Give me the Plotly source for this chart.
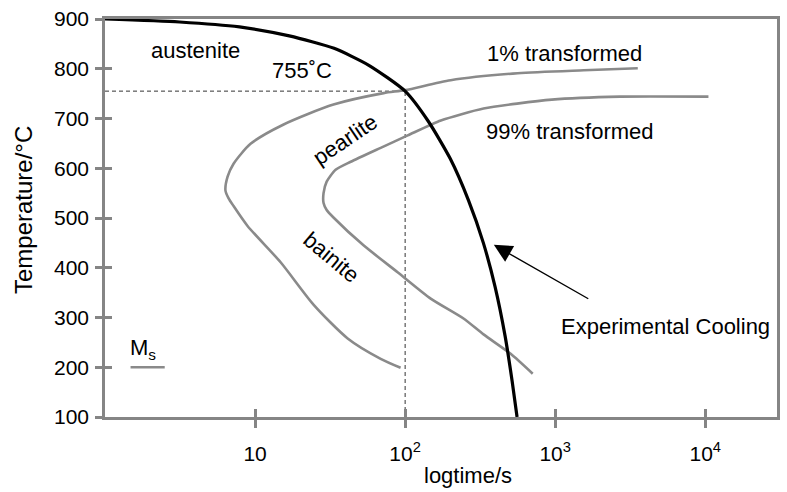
import numpy as np
import plotly.graph_objects as go

# ---- data -------------------------------------------------------------
# experimental cooling curve: time (s) vs temperature (degC)
cool_t = [1.0, 3.14, 7.87, 16.9, 33.6, 57.3, 100, 143, 200, 264, 332, 398,
          464, 516, 557]
cool_T = [900, 894, 884, 866, 841, 807, 755, 694, 619, 536, 450, 361,
          262, 173, 100]

# start of transformation (1% transformed)
start_t = [3550, 1550, 562, 201, 100, 71.9, 33.3, 15.5, 9.33, 7.19, 6.56,
           6.35, 6.65, 7.19, 8.91, 14.8, 24.5, 41.4, 68.7, 93.3]
start_T = [801, 797, 791, 777, 757, 751, 728, 688, 649, 609, 583,
           555, 540, 524, 484, 411, 326, 258, 217, 199]

# end of transformation (99% transformed)
end_t = [10500, 2700, 950, 333, 173, 104, 68.7, 43.4, 34.4, 30.0, 28.6,
         28.6, 30.0, 33.3, 52.8, 89.1, 148, 245, 333, 505, 708]
end_T = [744, 744, 738, 720, 696, 666, 641, 613, 597, 573, 550,
         530, 516, 501, 445, 391, 338, 298, 266, 227, 187]

# martensite start level
ms_t = [1.48, 2.5]
ms_T = [200, 200]

# critical point
crit_t = 100
crit_T = 755

x_tickvals = [10, 100, 1000, 10000]
x_ticktext = ["10", "10<sup>2</sup>", "10<sup>3</sup>", "10<sup>4</sup>"]
y_tickvals = [100, 200, 300, 400, 500, 600, 700, 800, 900]

# ---- styling ----------------------------------------------------------
FONT = "Liberation Sans, Arial, sans-serif"
FRAME = "#858585"
CURVE = "#8a8a8a"
X_RANGE = [0, 4.478]
Y_RANGE = [100, 900]

fig = go.Figure()

# dashed guide lines to the critical point
fig.add_trace(go.Scatter(
    x=[10 ** X_RANGE[0], crit_t, crit_t], y=[crit_T, crit_T, Y_RANGE[0]],
    mode="lines", line=dict(color="#333333", width=1, dash="4px,3px"),
    hoverinfo="skip", showlegend=False))

fig.add_trace(go.Scatter(
    x=start_t, y=start_T, mode="lines", line_shape="spline",
    line=dict(color=CURVE, width=2.6, smoothing=0.7),
    name="1% transformed", showlegend=False))

fig.add_trace(go.Scatter(
    x=end_t, y=end_T, mode="lines", line_shape="spline",
    line=dict(color=CURVE, width=2.6, smoothing=0.6),
    name="99% transformed", showlegend=False))

fig.add_trace(go.Scatter(
    x=ms_t, y=ms_T, mode="lines",
    line=dict(color=CURVE, width=2.6),
    name="Ms", showlegend=False))

fig.add_trace(go.Scatter(
    x=cool_t, y=cool_T, mode="lines", line_shape="spline",
    line=dict(color="black", width=3.2, smoothing=0.6),
    name="Experimental Cooling", showlegend=False))

# invisible trace that carries the inner tick marks of the overlay axes
fig.add_trace(go.Scatter(
    x=[10, 100], y=[100, 200], xaxis="x2", yaxis="y2", mode="markers",
    marker=dict(opacity=0), hoverinfo="skip", showlegend=False))

label_font = dict(family=FONT, size=22, color="black")


def label(text, logx, y, angle=0):
    fig.add_annotation(x=logx, y=y, xref="x", yref="y", text=text,
                       showarrow=False, textangle=angle, font=label_font,
                       xanchor="center", yanchor="middle")


label("austenite", 0.605, 837)
label("755˚C", 1.31, 797)
label("1% transformed", 3.065, 830)
label("99% transformed", 3.1, 674)
label("pearlite", 1.6, 658, angle=-34)
label("bainite", 1.51, 421, angle=40)
label("Experimental Cooling", 3.735, 282)
label("M<sub>s</sub>", 0.25, 236)

fig.add_annotation(
    x=np.log10(390), y=446, ax=np.log10(1700), ay=336,
    xref="x", yref="y", axref="x", ayref="y", text="",
    showarrow=True, arrowhead=2, arrowsize=2.6, arrowwidth=1.4,
    arrowcolor="black")

# axis titles
fig.add_annotation(x=0.54, y=-0.148, xref="paper", yref="paper",
                   text="logtime/s", showarrow=False,
                   font=dict(family=FONT, size=22, color="black"),
                   xanchor="center", yanchor="middle")
fig.add_annotation(x=-0.122, y=0.52, xref="paper", yref="paper",
                   text="Temperature/°C", showarrow=False, textangle=-90,
                   font=dict(family=FONT, size=24, color="black"),
                   xanchor="center", yanchor="middle")

axis_common = dict(showgrid=False, zeroline=False)

fig.update_layout(
    width=787, height=492,
    margin=dict(l=105, r=7, t=13, b=75),
    paper_bgcolor="white", plot_bgcolor="white",
    font=dict(family=FONT, color="black"),
    xaxis=dict(type="log", range=X_RANGE, tickvals=x_tickvals,
               ticktext=x_ticktext, ticks="outside", ticklen=8,
               tickwidth=2.5, tickcolor=FRAME, showline=True,
               linecolor=FRAME, linewidth=2.5, mirror=True,
               tickfont=dict(family=FONT, size=21, color="black"),
               ticklabelstandoff=8, **axis_common),
    yaxis=dict(range=Y_RANGE, tickvals=y_tickvals, ticks="outside",
               ticklen=7, tickwidth=2.5, tickcolor=FRAME, showline=True,
               linecolor=FRAME, linewidth=2.5, mirror=True,
               tickfont=dict(family=FONT, size=21, color="black"),
               ticklabelstandoff=2, **axis_common),
    xaxis2=dict(type="log", range=X_RANGE, overlaying="x", anchor="y",
                side="bottom", tickvals=x_tickvals, ticks="inside",
                ticklen=8, tickwidth=2.5, tickcolor=FRAME,
                showticklabels=False, showline=False, **axis_common),
    yaxis2=dict(range=Y_RANGE, overlaying="y", anchor="x", side="left",
                tickvals=y_tickvals, ticks="inside", ticklen=7,
                tickwidth=2.5, tickcolor=FRAME, showticklabels=False,
                showline=False, **axis_common),
)

fig.write_html("out.html")
